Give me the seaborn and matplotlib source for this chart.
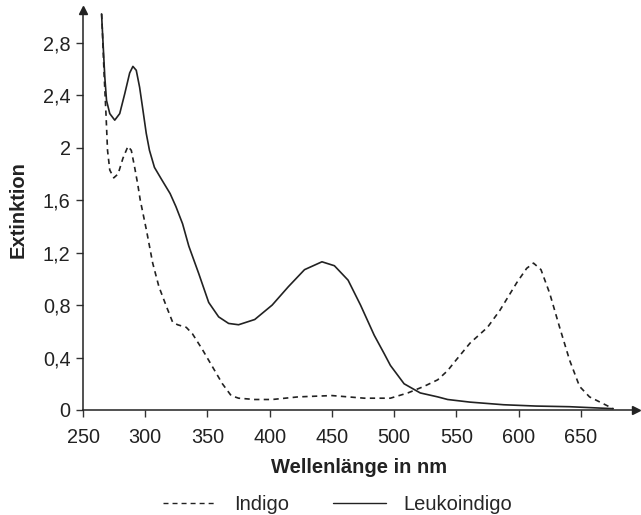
import pandas as pd
import seaborn as sns
from matplotlib import pyplot as plt
from matplotlib.lines import Line2D

# Indigo (dashed) - wavelength in nm, extinction
indigo_nm = [265, 267, 268.5, 269.7, 271.5, 274.7, 278.2, 282.1, 286.1, 288.8, 291.5,
             294, 296, 301, 306, 311, 317, 322, 326, 333, 338, 346, 354, 362, 369,
             375, 388, 402, 423, 450, 476, 497, 511, 524, 535, 543, 548, 561, 575,
             585, 598.5, 606.5, 612, 618, 625, 633, 641, 649, 657, 667.6, 676]
indigo_ext = [3.02, 2.55, 2.25, 1.98, 1.83, 1.77, 1.80, 1.92, 2.01, 1.98, 1.85,
              1.72, 1.60, 1.37, 1.12, 0.94, 0.79, 0.67, 0.65, 0.63, 0.58, 0.46, 0.33,
              0.20, 0.11, 0.09, 0.08, 0.08, 0.10, 0.11, 0.09, 0.09, 0.13, 0.18, 0.23,
              0.30, 0.36, 0.51, 0.63, 0.76, 0.97, 1.08, 1.12, 1.07, 0.89, 0.63, 0.38,
              0.18, 0.10, 0.05, 0.01]

# Leukoindigo (solid)
leuko_nm = [264.9, 267.5, 268.9, 271.5, 275.5, 279.5, 283.5, 287.5, 290.1, 292.8,
            295.5, 298.1, 300.8, 303.4, 307.4, 313, 320, 324.7, 330, 335, 343, 351,
            359, 367, 375, 388, 402, 415, 428, 442, 452, 463, 473, 484, 492, 497,
            508, 521, 535, 543, 561, 588, 614, 641, 676]
leuko_ext = [3.02, 2.54, 2.36, 2.26, 2.21, 2.26, 2.41, 2.57, 2.62, 2.59,
             2.46, 2.29, 2.11, 1.98, 1.85, 1.76, 1.65, 1.55, 1.42, 1.25, 1.04, 0.82,
             0.71, 0.66, 0.65, 0.69, 0.80, 0.94, 1.07, 1.13, 1.10, 0.99, 0.80, 0.57,
             0.43, 0.34, 0.20, 0.13, 0.10, 0.08, 0.06, 0.04, 0.03, 0.025, 0.01]

x_ticks = [250, 300, 350, 400, 450, 500, 550, 600, 650]
y_ticks = [0, 0.4, 0.8, 1.2, 1.6, 2.0, 2.4, 2.8]
y_labels = ['0', '0,4', '0,8', '1,2', '1,6', '2', '2,4', '2,8']

df = pd.concat([
    pd.DataFrame({'nm': indigo_nm, 'ext': indigo_ext, 'Stoff': 'Indigo'}),
    pd.DataFrame({'nm': leuko_nm, 'ext': leuko_ext, 'Stoff': 'Leukoindigo'}),
])

sns.set_style('white')
plt.rcParams['font.family'] = ['Liberation Sans', 'DejaVu Sans']
fs = 14.3
ink = '#222222'

fig = plt.figure(figsize=(6.41, 5.15), dpi=100)
ax = fig.add_axes([0.1295, 0.2039, 0.862, 0.7767])

sns.lineplot(data=df, x='nm', y='ext', hue='Stoff', style='Stoff',
             palette=[ink, ink],
             dashes={'Indigo': (3.2, 2.6), 'Leukoindigo': ''},
             linewidth=1.2, sort=False, estimator=None, ax=ax, legend=False)

ax.set_xlim(250, 694)
ax.set_ylim(0, 3.05)
ax.set_xticks(x_ticks)
ax.set_xticklabels([str(v) for v in x_ticks])
ax.set_yticks(y_ticks)
ax.set_yticklabels(y_labels)
ax.tick_params(axis='both', direction='out', length=5, width=1, color='#333333',
               labelsize=fs, labelcolor=ink, pad=4)
ax.tick_params(axis='x', bottom=True, pad=8)
ax.tick_params(axis='y', left=True)

for s in ['top', 'right']:
    ax.spines[s].set_visible(False)
for s in ['left', 'bottom']:
    ax.spines[s].set_color(ink)
    ax.spines[s].set_linewidth(1.1)

# arrow heads on axes
ax.plot(1, 0, '>', color=ink, markersize=6, transform=ax.get_yaxis_transform(), clip_on=False)
ax.plot(250, 1, '^', color=ink, markersize=6, transform=ax.get_xaxis_transform(), clip_on=False)

ax.set_xlabel('Wellenlänge in nm', fontsize=fs + 0.2, fontweight='bold', color=ink, labelpad=8)
ax.set_ylabel('Extinktion', fontsize=fs + 0.2, fontweight='bold', color=ink, labelpad=11)

handles = [Line2D([], [], color=ink, lw=1.0, dashes=(3.6, 2.9)),
           Line2D([], [], color=ink, lw=1.0)]
fig.legend(handles, ['Indigo', 'Leukoindigo'], loc='center', ncol=2,
           frameon=False, fontsize=fs + 0.2, handlelength=2.65, handletextpad=0.85,
           columnspacing=2.2, bbox_to_anchor=(0.527, 0.02))

fig.savefig('out.png', dpi=100)
